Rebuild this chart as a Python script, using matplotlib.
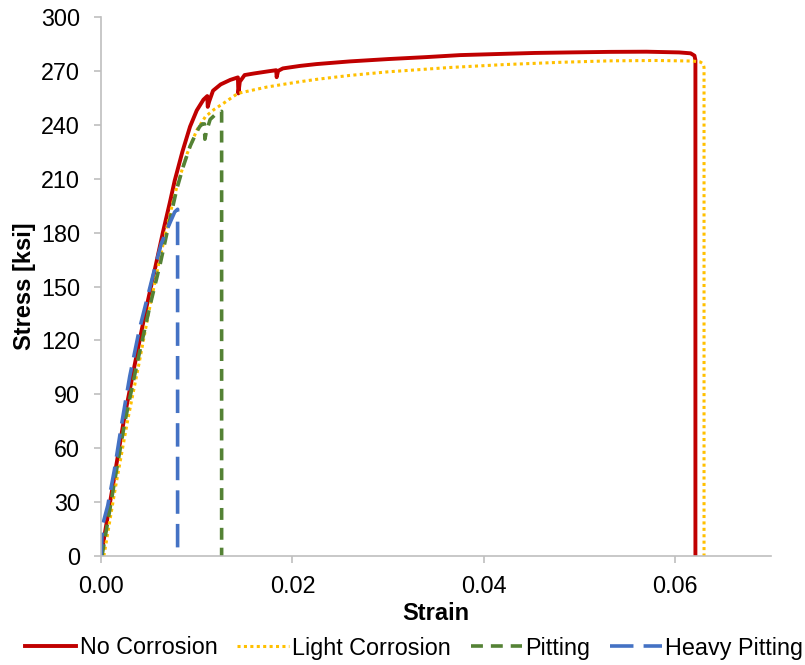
import matplotlib
matplotlib.use("Agg")
import matplotlib.pyplot as plt

plt.rcParams['font.family'] = ['Liberation Sans', 'DejaVu Sans']

# stress-strain curves
noCorrosionStrain = [0, 0.0012, 0.0024, 0.0035, 0.0046, 0.0056, 0.0065, 0.0072, 0.0077, 0.0085,
                     0.0093, 0.0100, 0.0107, 0.0111, 0.01115, 0.0113, 0.0117, 0.0125, 0.0135, 0.0143,
                     0.01435, 0.0145, 0.0150, 0.0160, 0.0175, 0.0183, 0.01835, 0.0185, 0.0190, 0.0208,
                     0.0225, 0.0260, 0.0300, 0.0340, 0.0375, 0.0420, 0.0453, 0.0490, 0.0531, 0.0570,
                     0.0604, 0.0616, 0.0620, 0.0621, 0.0621]
noCorrosionStress = [0, 38, 76, 106, 135, 159, 181, 197, 209, 225,
                     239, 248, 254, 256, 250, 253, 259, 262.5, 265, 266.4,
                     257.5, 264, 267.7, 268.6, 269.8, 270.4, 266.5, 270, 271.4, 272.8,
                     273.8, 275.3, 276.6, 277.7, 278.8, 279.5, 280, 280.3, 280.6, 280.7,
                     280.3, 279.8, 278.5, 276, 0]

lightStrain = [0.0003, 0.0015, 0.0028, 0.0040, 0.0050, 0.0060, 0.0068, 0.0076, 0.0080, 0.0090,
               0.0100, 0.0109, 0.0118, 0.0128, 0.0143, 0.0160, 0.0173, 0.0190, 0.0208, 0.0225,
               0.0260, 0.0300, 0.0364, 0.0420, 0.0480, 0.0531, 0.0580, 0.0618, 0.0626, 0.0629,
               0.0630, 0.0630]
lightStress = [0, 38, 76, 108, 136, 162, 181, 199, 207, 224,
               237, 244.5, 248.5, 252, 257.5, 259.5, 261, 262.5, 264, 265.3,
               267.5, 269.5, 271.9, 273.5, 274.8, 275.6, 275.8, 275.5, 275, 274,
               272, 0]

pittingStrain = [0.0001, 0.0013, 0.0025, 0.0038, 0.0051, 0.0062, 0.0071, 0.0079, 0.0086, 0.0093,
                 0.0099, 0.0103, 0.0106, 0.0108, 0.01085, 0.0110, 0.0114, 0.0120, 0.0126, 0.0126]
pittingStress = [0, 38, 75, 108, 139, 163, 185, 204, 217, 228,
                 235, 239, 240.5, 240.5, 232, 236, 243, 246, 247.5, 0]

heavyStrain = [0, 0.0001, 0.0002, 0.0007, 0.0014, 0.0022, 0.0030, 0.0040, 0.0048, 0.0058,
               0.0063, 0.0070, 0.0077, 0.0080, 0.0080]
heavyStress = [0, 11, 18, 28, 48, 75, 100, 126, 143, 164,
               174, 183, 191.5, 193, 0]

fig = plt.figure(figsize=(8.05, 6.65), dpi=100)
ax = fig.add_axes([0.1255, 0.1639, 0.8323, 0.8105])

ax.plot(noCorrosionStrain, noCorrosionStress, color='#C00000', lw=2.8,
        solid_joinstyle='round', label='No Corrosion')
ax.plot(lightStrain, lightStress, color='#FFC000', lw=2.2,
        linestyle=(0, (1, 1.1)), label='Light Corrosion')
ax.plot(pittingStrain, pittingStress, color='#548235', lw=2.6,
        linestyle=(0, (3.3, 2.2)), label='Pitting')
ax.plot(heavyStrain, heavyStress, color='#4472C4', lw=2.6,
        linestyle=(0, (6.5, 2.8)), label='Heavy Pitting')

ax.set_xlim(0, 0.07)
ax.set_ylim(0, 300)
ax.set_xticks([0, 0.02, 0.04, 0.06])
ax.set_xticklabels(['0.00', '0.02', '0.04', '0.06'])
ax.set_yticks(range(0, 301, 30))

for side in ['top', 'right']:
    ax.spines[side].set_visible(False)
for side in ['left', 'bottom']:
    ax.spines[side].set_color('#BFBFBF')
    ax.spines[side].set_linewidth(1.2)

ax.tick_params(axis='both', direction='out', length=5, width=1.2, color='#BFBFBF',
               labelsize=16.8, labelcolor='black')
ax.tick_params(axis='y', pad=10)
ax.tick_params(axis='x', pad=8.5)

ax.set_xlabel('Strain', fontsize=17, fontweight='bold', labelpad=3)
ax.set_ylabel('Stress [ksi]', fontsize=17, fontweight='bold', labelpad=4)

fig.legend(loc='center', bbox_to_anchor=(414 / 805, 1 - 648 / 665), ncol=4, frameon=False,
           fontsize=16.8, handlelength=2.2, handletextpad=0.15, columnspacing=0.85,
           borderaxespad=0)

fig.savefig('out.png', dpi=100)
